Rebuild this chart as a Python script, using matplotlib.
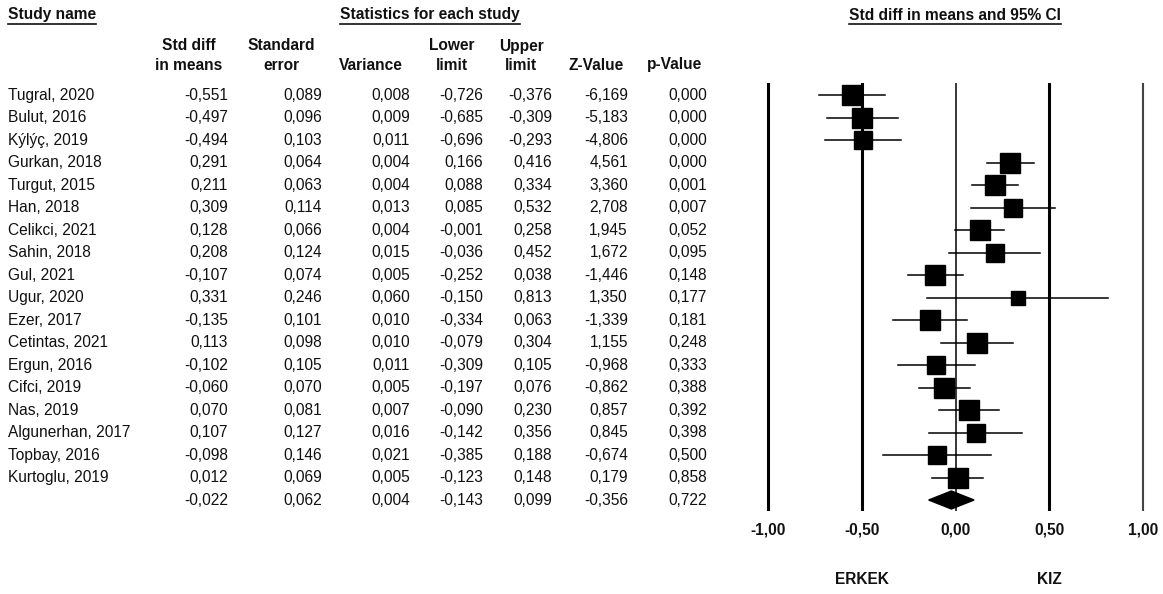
import numpy as np
import matplotlib
matplotlib.use("Agg")
import matplotlib.pyplot as plt
import matplotlib.transforms as mtrans
from matplotlib.lines import Line2D
from matplotlib.patches import Polygon

plt.rcParams['font.family'] = ['Liberation Sans', 'DejaVu Sans']

# ---- data ----
names = ["Tugral, 2020", "Bulut, 2016", "Kýlýç, 2019", "Gurkan, 2018", "Turgut, 2015",
         "Han, 2018", "Celikci, 2021", "Sahin, 2018", "Gul, 2021", "Ugur, 2020",
         "Ezer, 2017", "Cetintas, 2021", "Ergun, 2016", "Cifci, 2019", "Nas, 2019",
         "Algunerhan, 2017", "Topbay, 2016", "Kurtoglu, 2019"]
smd = [-0.551, -0.497, -0.494, 0.291, 0.211, 0.309, 0.128, 0.208, -0.107, 0.331,
       -0.135, 0.113, -0.102, -0.060, 0.070, 0.107, -0.098, 0.012]
se = [0.089, 0.096, 0.103, 0.064, 0.063, 0.114, 0.066, 0.124, 0.074, 0.246,
      0.101, 0.098, 0.105, 0.070, 0.081, 0.127, 0.146, 0.069]
var = [0.008, 0.009, 0.011, 0.004, 0.004, 0.013, 0.004, 0.015, 0.005, 0.060,
       0.010, 0.010, 0.011, 0.005, 0.007, 0.016, 0.021, 0.005]
lower = [-0.726, -0.685, -0.696, 0.166, 0.088, 0.085, -0.001, -0.036, -0.252, -0.150,
         -0.334, -0.079, -0.309, -0.197, -0.090, -0.142, -0.385, -0.123]
upper = [-0.376, -0.309, -0.293, 0.416, 0.334, 0.532, 0.258, 0.452, 0.038, 0.813,
         0.063, 0.304, 0.105, 0.076, 0.230, 0.356, 0.188, 0.148]
zval = [-6.169, -5.183, -4.806, 4.561, 3.360, 2.708, 1.945, 1.672, -1.446, 1.350,
        -1.339, 1.155, -0.968, -0.862, 0.857, 0.845, -0.674, 0.179]
pval = [0.000, 0.000, 0.000, 0.000, 0.001, 0.007, 0.052, 0.095, 0.148, 0.177,
        0.181, 0.248, 0.333, 0.388, 0.392, 0.398, 0.500, 0.858]
# summary row
sum_vals = [-0.022, 0.062, 0.004, -0.143, 0.099, -0.356, 0.722]
tau2 = 0.059   # between-study variance, approximate

ticks = [-1.0, -0.5, 0.0, 0.5, 1.0]
tick_labels = ["-1,00", "-0,50", "0,00", "0,50", "1,00"]

W, H = 1163, 594
fig = plt.figure(figsize=(W / 100, H / 100), dpi=100)

# background axes in pixel coordinates for the table
bg = fig.add_axes([0, 0, 1, 1])
bg.set_xlim(0, W)
bg.set_ylim(H, 0)
bg.axis('off')

# forest axes
ax = fig.add_axes([740 / W, (H - 511) / H, (W - 740) / W, (511 - 83) / H])
ax.set_xlim(-1 - 28 / 187.5, 1 + 20 / 187.5)
ax.set_ylim((511 - 95) / 22.5, (83 - 95) / 22.5)
for s in ax.spines.values():
    s.set_visible(False)
ax.set_yticks([])

rows = np.arange(len(names))
txt_tr = mtrans.blended_transform_factory(bg.transData, ax.transData)
fs = 11.2
col = '#111111'

def fmt(v):
    return f"{v:.3f}".replace('.', ',')

# headers
title_texts = []
title_texts.append(bg.text(8, 15, "Study name", fontsize=fs, fontweight='bold', ha='left', va='center', color=col))
title_texts.append(bg.text(430, 15, "Statistics for each study", fontsize=fs, fontweight='bold', ha='center', va='center', color=col))
title_texts.append(bg.text(955, 15, "Std diff in means and 95% CI", fontsize=fs, fontweight='bold', ha='center', va='center', color=col))

col_right = [228, 322, 410, 483, 552, 628, 707]
head_center = [189, 281, 371, 452, 521, 596, 675]
head1 = ["Std diff", "Standard", "", "Lower", "Upper", "", ""]
head2 = ["in means", "error", "Variance", "limit", "limit", "Z-Value", "p-Value"]
for xc, h1, h2 in zip(head_center, head1, head2):
    if h1:
        bg.text(xc, 46, h1, fontsize=fs, fontweight='bold', ha='center', va='center', color=col)
    bg.text(xc, 65, h2, fontsize=fs, fontweight='bold', ha='center', va='center', color=col)

columns = [smd, se, var, lower, upper, zval, pval]
for i in rows:
    bg.text(8, i, names[i], fontsize=fs, ha='left', va='center', color=col, transform=txt_tr)
    for xr, c in zip(col_right, columns):
        bg.text(xr, i, fmt(c[i]), fontsize=fs, ha='right', va='center', color=col, transform=txt_tr)
sum_row = len(names)
for xr, v in zip(col_right, sum_vals):
    bg.text(xr, sum_row, fmt(v), fontsize=fs, ha='right', va='center', color=col, transform=txt_tr)

# reference lines
lw_ref = {-1.0: 2.2, -0.5: 2.2, 0.0: 1.1, 0.5: 2.2, 1.0: 1.5}
for t in ticks:
    ax.axvline(t, color='black' if t != 1.0 else '#444444', lw=lw_ref[t], zorder=1)

# CIs and boxes
w = 1 / (np.array(var) + tau2)
side = 14.4 * np.sqrt(w / w.max())
for i in rows:
    ax.plot([lower[i], upper[i]], [i, i], color='black', lw=1.1, zorder=2)
    ax.plot(smd[i], i, marker='s', ms=side[i], color='black', mec='black', zorder=3)

# summary diamond
est, lo, hi = sum_vals[0], sum_vals[3], sum_vals[4]
hh = 0.4
ax.add_patch(Polygon([[lo, sum_row], [est, sum_row - hh], [hi, sum_row], [est, sum_row + hh]],
                     closed=True, color='black', zorder=3))

ax.set_xticks(ticks)
ax.set_xticklabels(tick_labels, fontsize=fs, fontweight='bold', color=col)
ax.tick_params(axis='x', length=0, pad=8)

lab_tr = mtrans.blended_transform_factory(ax.transData, bg.transData)
bg.text(-0.5, 580, "ERKEK", fontsize=fs, fontweight='bold', ha='center', va='center', color=col, transform=lab_tr)
bg.text(0.5, 580, "KIZ", fontsize=fs, fontweight='bold', ha='center', va='center', color=col, transform=lab_tr)

# underline the titles
fig.canvas.draw()
r = fig.canvas.get_renderer()
for t in title_texts:
    bb = t.get_window_extent(r)
    y = (bb.y0 - 1.5) / H
    fig.add_artist(Line2D([bb.x0 / W, bb.x1 / W], [y, y], color=col, lw=1.2))

fig.savefig("out.png", dpi=100)
